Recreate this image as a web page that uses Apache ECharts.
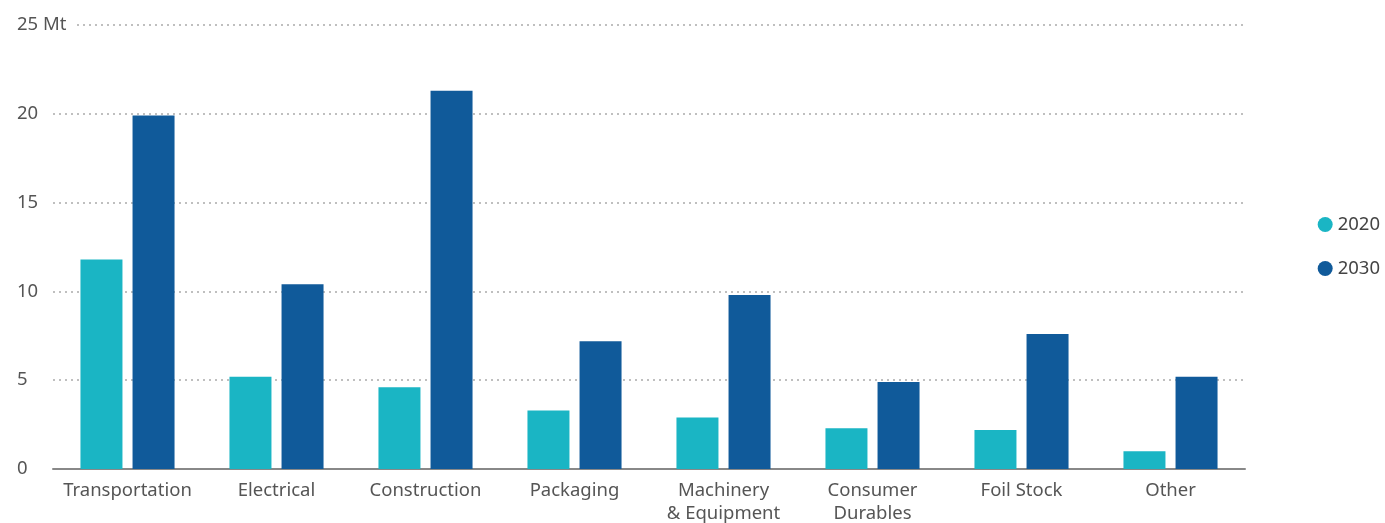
<!DOCTYPE html>
<html>
<head>
<meta charset="utf-8">
<script src="https://cdn.jsdelivr.net/npm/echarts@6/dist/echarts.min.js"></script>
<style>
  html, body { margin: 0; padding: 0; background: #fff; }
  #main { width: 1385px; height: 523px; }
</style>
</head>
<body>
<div id="main"></div>
<script>
var categories = ['Transportation', 'Electrical', 'Construction', 'Packaging', 'Machinery\n& Equipment', 'Consumer\nDurables', 'Foil Stock', 'Other'];
var values2020 = [11.8, 5.2, 4.6, 3.3, 2.9, 2.3, 2.2, 1.0];
var values2030 = [19.9, 10.4, 21.3, 7.2, 9.8, 4.9, 7.6, 5.2];
var yTicks = [0, 5, 10, 15, 20, 25];

var chart = echarts.init(document.getElementById('main'));
var font = 'Noto Sans';
chart.setOption({
    animation: false,
    textStyle: {fontFamily: font},
    grid: {left: 53, right: 140, top: 25, bottom: 54, containLabel: false, outerBoundsMode: 'none'},
    legend: {
        orient: 'vertical',
        right: 0,
        top: 210,
        icon: 'circle',
        itemWidth: 15,
        itemHeight: 15,
        itemGap: 25,
        textStyle: {fontSize: 18.5, color: '#444', fontFamily: font, padding: [0, 0, 0, 0]},
        data: ['2020', '2030']
    },
    xAxis: {
        type: 'category',
        data: categories,
        axisLine: {lineStyle: {color: '#888', width: 2}},
        axisTick: {show: false},
        axisLabel: {interval: 0, fontSize: 18.5, color: '#555', margin: 10, lineHeight: 23, fontFamily: font}
    },
    yAxis: {
        type: 'value',
        min: 0,
        max: 25,
        interval: 5,
        axisLine: {show: false},
        axisTick: {show: false},
        splitLine: {lineStyle: {color: '#aaa', type: [2, 4], width: 1.5}},
        axisLabel: {
            fontSize: 18.5,
            color: '#555',
            align: 'left',
            margin: 36,
            fontFamily: font,
            backgroundColor: '#fff',
            padding: [0, 7, 0, 0],
            formatter: function (v) {
                return v === yTicks[yTicks.length - 1] ? v + ' Mt' : String(v);
            }
        }
    },
    series: [{
        name: '2020',
        type: 'bar',
        data: values2020,
        barWidth: 42,
        barGap: '24%',
        itemStyle: {color: '#1ab5c4'}
    }, {
        name: '2030',
        type: 'bar',
        data: values2030,
        barWidth: 42,
        itemStyle: {color: '#105a9a'}
    }]
});
</script>
</body>
</html>
